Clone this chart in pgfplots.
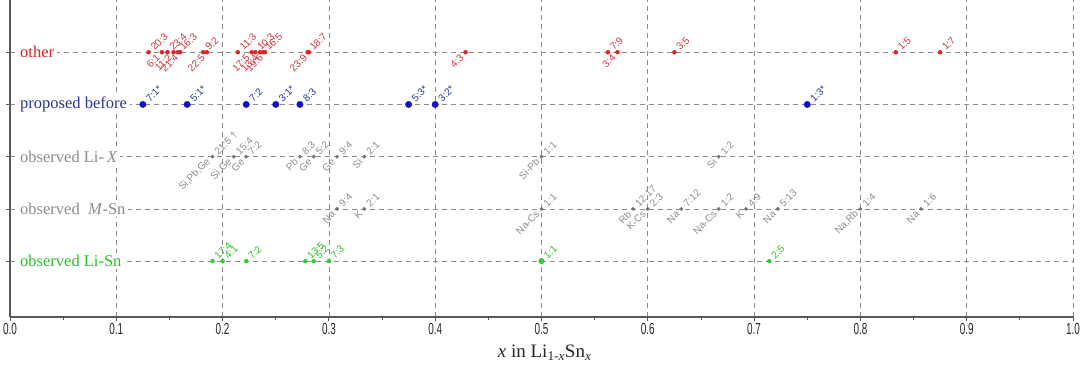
\documentclass[border=0pt]{standalone}
\usepackage{fontspec}
\setmainfont{Liberation Serif}
\newfontfamily\sansf{Liberation Sans}
\usepackage{pgfplots}
\pgfplotsset{compat=1.18}
\definecolor{redc}{RGB}{222,36,40}
\definecolor{redl}{RGB}{205,50,55}
\definecolor{bluec}{RGB}{10,20,200}
\definecolor{bluel}{RGB}{40,55,150}
\definecolor{grayc}{RGB}{115,115,115}
\definecolor{grayl}{RGB}{140,140,140}
\definecolor{greenc}{RGB}{50,205,50}
\definecolor{greenl}{RGB}{45,190,45}
\begin{document}
\begin{tikzpicture}
\begin{axis}[
  scale only axis, width=1063pt, height=317pt,
  xmin=0, xmax=1, ymin=-0.07, ymax=6,
  axis x line*=bottom, axis y line*=left,
  axis line style={draw=black!65, line width=1.3pt},
  xtick={0,0.1,0.2,0.3,0.4,0.5,0.6,0.7,0.8,0.9,1.0},
  minor x tick num=1,
  ytick={1,2,3,4,5}, yticklabels={},
  grid=major,
  major grid style={black!45, line width=0.7pt, dash pattern=on 5pt off 4pt},
  tick style={black!65, line width=0.8pt},
  tick align=outside,
  major tick length=4pt, minor tick length=3pt,
  /pgf/number format/assume math mode=true,
  xticklabel={\scalebox{0.62}[1]{\pgfmathprintnumber[fixed,fixed zerofill,precision=1]{\tick}}},
  xticklabel style={font=\sansf\fontsize{16}{16}\selectfont, text=black!85, yshift=1pt},
  xlabel={\textit{x} in Li\textsubscript{1-\textit{x}}Sn\textsubscript{\textit{x}}},
  xlabel style={at={(axis description cs:0.503,0)}, anchor=center, yshift=-36pt, font=\fontsize{19}{20}\selectfont, text=black!85},
  clip=false,
  point meta=explicit symbolic,
  lab/.style 2 args={nodes near coords, every node near coord/.append style={rotate=45, anchor=west, xshift=#2, inner sep=1pt, font=\sansf\fontsize{10}{10}\selectfont, text=#1}},
  labb/.style 2 args={nodes near coords, every node near coord/.append style={rotate=45, anchor=east, xshift=-#2, inner sep=1pt, font=\sansf\fontsize{10}{10}\selectfont, text=#1}},
]
\coordinate (bl) at (rel axis cs:0,0);
% other - labels above
\addplot[only marks, mark=*, mark size=2pt, color=redc, lab={redl}{4pt}] coordinates {
(0.13043,5) [20:3] (0.14815,5) [23:4] (0.15789,5) [16:3] (0.18182,5) [9:2]
(0.21429,5) [11:3] (0.23077,5) [10:3] (0.23810,5) [16:5] (0.28000,5) [18:7]
(0.56250,5) [7:9] (0.62500,5) [3:5] (0.83333,5) [1:5] (0.87500,5) [1:7]
};
% other - labels below
\addplot[only marks, mark=*, mark size=2pt, color=redc, labb={redl}{4pt}] coordinates {
(0.14286,5) [6:1] (0.15385,5) [11:2] (0.16000,5) [21:4] (0.18519,5) [22:5]
(0.22727,5) [17:5] (0.23529,5) [13:4] (0.24000,5) [19:6] (0.28125,5) [23:9]
(0.42857,5) [4:3] (0.57143,5) [3:4]
};
% proposed before
\addplot[only marks, mark=*, mark size=3.2pt, color=bluec, lab={bluel}{5.5pt}] coordinates {
(0.12500,4) [7:1*] (0.16667,4) [5:1*] (0.22222,4) [7:2] (0.25000,4) [3:1*]
(0.27273,4) [8:3] (0.37500,4) [5:3*] (0.40000,4) [3:2*] (0.75000,4) [1:3*]
};
% observed Li-X
\addplot[only marks, mark=*, mark size=1.7pt, color=grayc, lab={grayl}{4pt}] coordinates {
(0.19048,3) [21:5 †] (0.21053,3) [15:4] (0.22222,3) [7:2] (0.27273,3) [8:3]
(0.28571,3) [5:2] (0.30769,3) [9:4] (0.33333,3) [2:1] (0.50000,3) [1:1]
(0.66667,3) [1:2]
};
\addplot[only marks, mark=none, labb={grayl}{4pt}] coordinates {
(0.19048,3) [Si,Pb,Ge] (0.21053,3) [Si,Ge] (0.22222,3) [Ge] (0.27273,3) [Pb]
(0.28571,3) [Ge] (0.30769,3) [Ge] (0.33333,3) [Si] (0.50000,3) [Si-Pb]
(0.66667,3) [Si]
};
% observed M-Sn
\addplot[only marks, mark=*, mark size=1.7pt, color=grayc, lab={grayl}{4pt}] coordinates {
(0.30769,2) [9:4] (0.33333,2) [2:1] (0.50000,2) [1:1] (0.58621,2) [12:17]
(0.60000,2) [2:3] (0.63158,2) [7:12] (0.66667,2) [1:2] (0.69231,2) [4:9]
(0.72222,2) [5:13] (0.80000,2) [1:4] (0.85714,2) [1:6]
};
\addplot[only marks, mark=none, labb={grayl}{4pt}] coordinates {
(0.30769,2) [Na] (0.33333,2) [K] (0.50000,2) [Na-Cs] (0.58621,2) [Rb]
(0.60000,2) [K-Cs] (0.63158,2) [Na] (0.66667,2) [Na-Cs] (0.69231,2) [K]
(0.72222,2) [Na] (0.80000,2) [Na,Rb] (0.85714,2) [Na]
};
% observed Li-Sn
\addplot[only marks, mark=*, mark size=2pt, color=greenc, lab={greenl}{4pt}] coordinates {
(0.19048,1) [17:4] (0.20000,1) [4:1] (0.22222,1) [7:2] (0.27778,1) [13:5]
(0.28571,1) [5:2] (0.30000,1) [7:3] (0.71429,1) [2:5]
};
\addplot[only marks, mark=*, mark size=2.8pt, color=greenc, lab={greenl}{4.5pt}] coordinates {
(0.50000,1) [1:1]
};
% row labels
\begin{scope}[every node/.style={anchor=west, xshift=7pt, fill=white, inner xsep=3pt, inner ysep=2pt, font=\fontsize{16.5}{18}\selectfont}]
\node[text=redc] at (axis cs:0,5) {other};
\node[text=bluel] at (axis cs:0,4) {proposed before};
\node[text=grayl] at (axis cs:0,3) {observed Li-\,\textit{X}};
\node[text=grayl] at (axis cs:0,2) {observed \ \textit{M}-Sn};
\node[text=greenl] at (axis cs:0,1) {observed Li-Sn};
\end{scope}
\end{axis}
\pgfresetboundingbox
\path[use as bounding box] ([shift={(-10pt,-51pt)}]bl) rectangle ([shift={(1070pt,317pt)}]bl);
\end{tikzpicture}
\end{document}
